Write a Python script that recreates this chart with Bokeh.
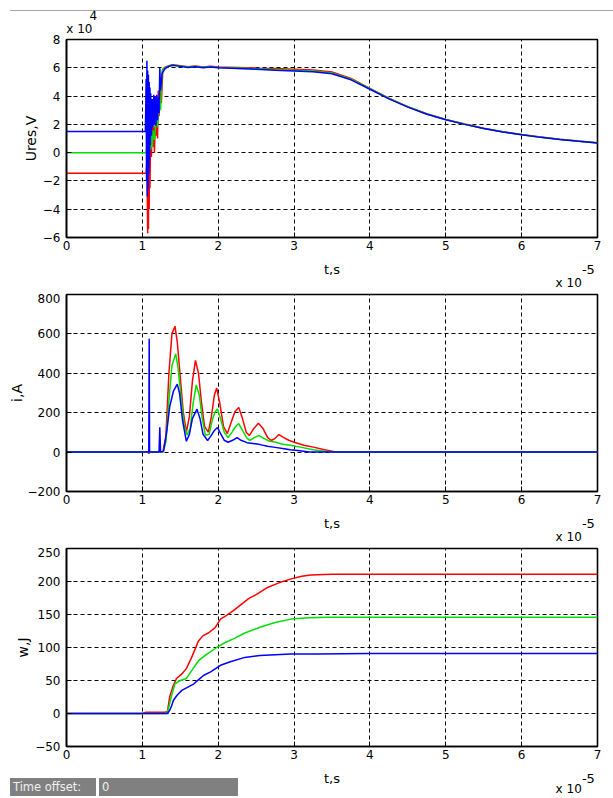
from bokeh.plotting import figure
from bokeh.layouts import column
from bokeh.models import Range1d, FixedTicker, Div, LinearAxis
from bokeh.embed import file_html
from bokeh.resources import INLINE

# ---------------- data (time in units of 1e-5 s) ----------------
x_ticks = [0, 1, 2, 3, 4, 5, 6, 7]
u_ticks = [-6, -4, -2, 0, 2, 4, 6, 8]          # x 1e4 V
i_ticks = [-200, 0, 200, 400, 600, 800]
w_ticks = [-50, 0, 50, 100, 150, 200, 250]

# Ures (x 1e4 V) : transient part
t_u_red_tr = [0, 1.05, 1.06, 1.065, 1.07, 1.075, 1.08, 1.085, 1.09, 1.095, 1.10, 1.11, 1.12,
              1.13, 1.14, 1.15, 1.16, 1.17, 1.18, 1.19, 1.20, 1.21, 1.22, 1.23, 1.25, 1.27]
u_red_tr = [-1.45, -1.45, -0.6, -3.0, -5.7, -1.5, -5.4, -0.8, -4.0, 0.3, -2.5, 1.6, -0.3,
            2.2, 0.4, 1.8, 0.0, 2.5, 1.2, 3.2, 1.0, 4.4, 2.6, 4.6, 3.5, 5.9]
t_u_green_tr = [0, 1.05, 1.06, 1.07, 1.08, 1.09, 1.10, 1.11, 1.12, 1.13, 1.14, 1.16, 1.18,
                1.20, 1.22, 1.24, 1.26, 1.28]
u_green_tr = [0, 0, 0.4, -0.6, 0.9, -0.3, 1.0, 0.2, 1.3, 0.4, 1.6, 0.9, 2.4,
              1.8, 3.6, 3.0, 5.8, 5.95]
t_u_blue_tr = [0, 1.04, 1.05, 1.055, 1.06, 1.065, 1.07, 1.075, 1.08, 1.085, 1.09, 1.095, 1.10,
               1.105, 1.11, 1.12, 1.13, 1.14, 1.15, 1.16, 1.17, 1.18, 1.19, 1.20, 1.21, 1.22,
               1.23, 1.24, 1.26]
u_blue_tr = [1.5, 1.5, 5.2, -2.0, 6.5, -3.1, 5.8, -2.6, 5.5, -1.5, 5.0, -0.5, 4.6,
             0.5, 4.2, 1.2, 3.8, 1.8, 4.1, 2.0, 4.0, 1.9, 4.1, 2.3, 3.9, 2.8,
             6.0, 4.4, 5.6]
# Ures : common time base after the transient
t_u_tail = [1.30, 1.35, 1.40, 1.50, 1.60, 1.70, 1.80, 1.90, 2.00, 2.25, 2.50, 2.75, 3.00, 3.25,
            3.50, 3.75, 4.00, 4.25, 4.50, 4.75, 5.00, 5.25, 5.50, 5.75, 6.00, 6.25, 6.50, 6.75, 7.00]
u_red_tail = [6.05, 6.15, 6.22, 6.15, 6.08, 6.12, 6.05, 6.10, 6.05, 6.02, 5.98, 5.95, 5.90, 5.85,
              5.70, 5.25, 4.55, 3.85, 3.25, 2.75, 2.35, 2.02, 1.72, 1.48, 1.28, 1.10, 0.95, 0.82, 0.70]
u_green_tail = [6.00, 6.12, 6.20, 6.12, 6.05, 6.10, 6.03, 6.08, 6.02, 5.98, 5.93, 5.88, 5.83, 5.78,
                5.63, 5.20, 4.52, 3.83, 3.24, 2.74, 2.34, 2.01, 1.71, 1.47, 1.27, 1.09, 0.94, 0.81, 0.69]
u_blue_tail = [5.95, 6.10, 6.18, 6.10, 6.02, 6.08, 6.00, 6.05, 6.00, 5.95, 5.90, 5.83, 5.78, 5.72,
               5.58, 5.15, 4.48, 3.80, 3.22, 2.72, 2.32, 2.00, 1.70, 1.46, 1.26, 1.08, 0.93, 0.80, 0.68]

# current i (A)
t_i_red = [0, 1.07, 1.085, 1.10, 1.27, 1.31, 1.35, 1.39, 1.43, 1.46, 1.50, 1.54, 1.58, 1.62, 1.66,
           1.70, 1.74, 1.78, 1.82, 1.87, 1.91, 1.95, 1.98, 2.02, 2.07, 2.12, 2.17, 2.22, 2.27, 2.32,
           2.37, 2.41, 2.47, 2.53, 2.59, 2.65, 2.70, 2.75, 2.80, 2.86, 2.93, 3.00, 3.13, 3.27, 3.40,
           3.55, 7.00]
i_red = [0, 0, -8, 0, 0, 80, 400, 600, 639, 560, 380, 200, 101, 180, 360,
         466, 400, 250, 130, 101, 180, 290, 325, 250, 130, 94, 150, 205, 227, 170,
         100, 84, 120, 146, 120, 75, 59, 70, 89, 75, 60, 50, 35, 24, 12,
         0, 0]
t_i_green = [0, 1.27, 1.31, 1.35, 1.39, 1.44, 1.47, 1.51, 1.55, 1.59, 1.63, 1.67, 1.71, 1.75, 1.79,
             1.83, 1.88, 1.92, 1.96, 1.99, 2.03, 2.08, 2.13, 2.18, 2.23, 2.27, 2.32, 2.38, 2.42, 2.48,
             2.54, 2.60, 2.68, 2.76, 2.85, 2.95, 3.10, 3.25, 3.40, 3.50, 7.00]
i_green = [0, 0, 50, 260, 440, 499, 430, 280, 140, 86, 120, 250, 341, 290, 170,
           86, 90, 160, 205, 219, 170, 100, 74, 100, 130, 145, 110, 70, 59, 75,
           84, 70, 55, 50, 40, 35, 24, 12, 4, 0, 0]
t_i_blue = [0, 1.085, 1.09, 1.095, 1.22, 1.23, 1.24, 1.28, 1.32, 1.36, 1.41, 1.46, 1.49, 1.53, 1.58,
            1.62, 1.66, 1.72, 1.76, 1.80, 1.86, 1.90, 1.95, 1.99, 2.03, 2.08, 2.13, 2.19, 2.25, 2.30,
            2.38, 2.46, 2.55, 2.65, 2.75, 2.85, 2.95, 3.05, 3.20, 7.00]
i_blue = [0, 0, 576, 0, 0, 126, 0, 5, 100, 230, 310, 345, 300, 160, 55,
          90, 170, 218, 170, 90, 59, 80, 110, 125, 95, 60, 50, 60, 74, 60,
          48, 44, 38, 30, 24, 18, 12, 8, 0, 0]

# energy w (J)
t_w_red = [0, 1.00, 1.05, 1.30, 1.33, 1.36, 1.40, 1.45, 1.52, 1.58, 1.65, 1.74, 1.80, 1.87, 1.96,
           2.03, 2.10, 2.20, 2.30, 2.40, 2.50, 2.65, 2.80, 2.96, 3.10, 3.22, 3.50, 4.00, 7.00]
w_red = [0, 0, 2, 2, 3, 25, 40, 53, 60, 68, 85, 110, 118, 122, 130,
         143, 148, 156, 165, 174, 180, 191, 198, 204, 208, 210, 211, 211, 211]
t_w_green = [0, 1.32, 1.35, 1.38, 1.43, 1.50, 1.58, 1.65, 1.74, 1.85, 1.98, 2.10, 2.20, 2.35, 2.56,
             2.75, 2.96, 3.20, 3.45, 4.00, 7.00]
w_green = [0, 0, 10, 25, 45, 50, 53, 65, 80, 90, 100, 108, 113, 122, 131,
           138, 143, 145, 146, 146, 146]
t_w_blue = [0, 1.33, 1.36, 1.38, 1.41, 1.46, 1.52, 1.60, 1.68, 1.75, 1.81, 1.90, 2.03, 2.15, 2.35,
            2.55, 2.75, 2.96, 3.30, 4.00, 7.00]
w_blue = [0, 0, 5, 10, 20, 28, 35, 40, 45, 52, 58, 63, 73, 78, 85,
          88, 89, 90, 90, 91, 91]

# text pieces
x_label = "t,s"
x_exp_base, x_exp_power = "x 10", "-5"
u_exp_base, u_exp_power = "x 10", "4"
status_label, status_value = "Time offset:", "0"

# ---------------- styling ----------------
FONT = "DejaVu Sans"
TICK_SIZE = "12px"
LABEL_SIZE = "14px"
RED, GREEN, BLUE = "#ff0000", "#00e000", "#0000ff"
LW = 1.5


def text_axis(ticks, labels, standoff, size):
    ax = LinearAxis(ticker=FixedTicker(ticks=ticks),
                    major_label_overrides=dict(zip(ticks, labels)))
    ax.axis_line_color = None
    ax.major_tick_line_color = None
    ax.minor_tick_line_color = None
    ax.major_tick_out = 0
    ax.major_tick_in = 0
    ax.major_label_standoff = standoff
    ax.major_label_text_font = FONT
    ax.major_label_text_font_size = size
    ax.major_label_text_color = "black"
    return ax


def make_panel(height, top, bottom, y_start, y_end, y_ticks, y_label, y_label_standoff,
               exp_standoff=-4):
    p = figure(width=613, height=height, x_range=Range1d(0, 7), y_range=Range1d(y_start, y_end),
               output_backend="svg", toolbar_location=None,
               min_border_left=66, min_border_right=16,
               min_border_top=top, min_border_bottom=bottom)
    p.background_fill_color = "white"
    p.border_fill_color = "white"
    p.outline_line_color = "black"
    p.outline_line_width = 1.6
    p.xaxis.ticker = FixedTicker(ticks=x_ticks)
    p.yaxis.ticker = FixedTicker(ticks=y_ticks)
    for ax in (p.xaxis[0], p.yaxis[0]):
        ax.axis_line_color = "black"
        ax.axis_line_width = 1.6
        ax.major_tick_line_color = "black"
        ax.major_tick_in = 5
        ax.major_tick_out = 0
        ax.minor_tick_line_color = None
        ax.major_label_text_font = FONT
        ax.major_label_text_font_size = TICK_SIZE
        ax.major_label_text_color = "black"
        ax.axis_label_text_font = FONT
        ax.axis_label_text_font_size = LABEL_SIZE
        ax.axis_label_text_font_style = "normal"
        ax.axis_label_text_color = "black"
    p.xaxis.major_label_standoff = 3
    p.yaxis.axis_label = y_label
    p.yaxis.major_label_standoff = 6
    p.yaxis.axis_label_standoff = y_label_standoff
    p.grid.grid_line_color = "black"
    p.grid.grid_line_dash = "4 3"
    p.grid.grid_line_width = 1
    # "t,s" and the x 10^-5 multiplier under the axis
    p.add_layout(text_axis([3.5, 6.88], [x_label, x_exp_power], 9, "13px"), "below")
    p.add_layout(text_axis([6.62], [x_exp_base], exp_standoff, TICK_SIZE), "below")
    return p


p1 = make_panel(293, 39, 56, -6, 8, u_ticks, "Ures,V", 1)
p1.line(t_u_red_tr + t_u_tail, u_red_tr + u_red_tail, line_color=RED, line_width=LW)
p1.line(t_u_green_tr + t_u_tail, u_green_tr + u_green_tail, line_color=GREEN, line_width=LW)
p1.line(t_u_blue_tr + t_u_tail, u_blue_tr + u_blue_tail, line_color=BLUE, line_width=LW)
p1.add_layout(text_axis([0.17], [u_exp_base], 4, TICK_SIZE), "above")
p1.add_layout(text_axis([0.355], [u_exp_power], -1, TICK_SIZE), "above")

p2 = make_panel(254, 1, 56, -200, 800, i_ticks, "i,A", 0)
p2.line(t_i_red, i_red, line_color=RED, line_width=LW)
p2.line(t_i_green, i_green, line_color=GREEN, line_width=LW)
p2.line(t_i_blue, i_blue, line_color=BLUE, line_width=LW)

p3 = make_panel(251, 1, 52, -50, 250, w_ticks, "w,J", 1, exp_standoff=-7)
p3.line(t_w_red, w_red, line_color=RED, line_width=LW)
p3.line(t_w_green, w_green, line_color=GREEN, line_width=LW)
p3.line(t_w_blue, w_blue, line_color=BLUE, line_width=LW)

# window decorations: top rule and "Time offset" status bar (HTML overlay)
box_css = ("position:absolute;top:766px;height:18px;background:#808080;color:#f0f0f0;"
           "font-family:'DejaVu Sans';font-size:11.5px;line-height:18px;padding-left:3px;"
           "box-sizing:border-box;white-space:nowrap;z-index:10;")
overlay = Div(
    text=('<div style="position:relative;width:0;height:0;">'
          '<div style="position:absolute;left:10px;top:-2px;width:603px;height:1px;'
          'background:#a6a6a6;z-index:10;"></div>'
          f'<div style="{box_css}left:10px;width:86px;">{status_label}</div>'
          f'<div style="{box_css}left:99px;width:139px;">{status_value}</div>'
          '</div>'),
    width=613, height=0, margin=0)

layout = column(overlay, p1, p2, p3, spacing=0)
open("out.html", "w").write(file_html(layout, INLINE))
